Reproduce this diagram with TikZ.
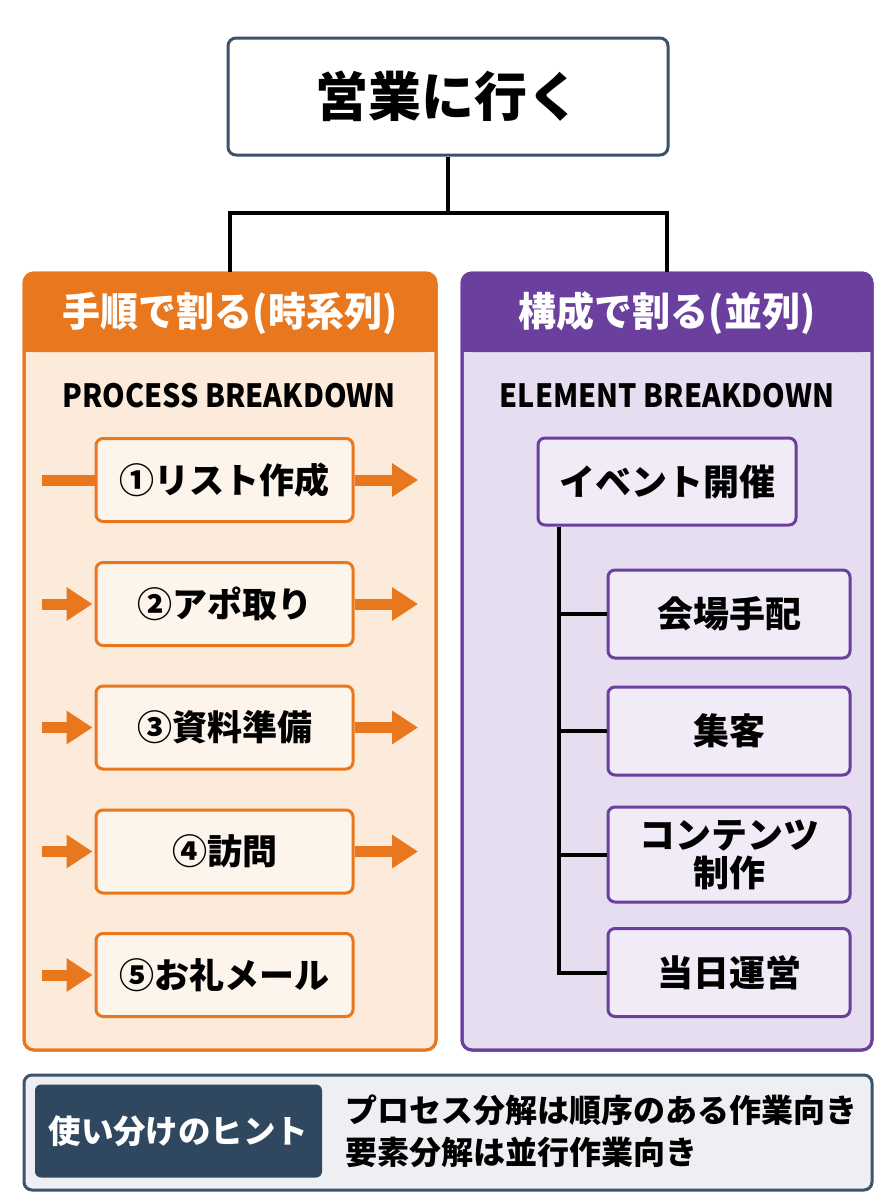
\documentclass[tikz,border=0pt]{standalone}
\usepackage{fontspec}
\setmainfont{Noto Sans CJK JP}
\usepackage{graphicx}
\usetikzlibrary{arrows.meta}
\definecolor{slate}{HTML}{3B536B}
\definecolor{org}{HTML}{E8771E}
\definecolor{orgbody}{HTML}{FCEADA}
\definecolor{orgbox}{HTML}{FDF4EB}
\definecolor{pur}{HTML}{6A3F9E}
\definecolor{purbody}{HTML}{E6DDF1}
\definecolor{purbox}{HTML}{F0EBF7}
\definecolor{hintbg}{HTML}{EDEFF2}
\definecolor{hintdark}{HTML}{2F475F}
\begin{document}
\begin{tikzpicture}[x=1pt,y=-1pt,
  topbox/.style={draw=slate, line width=3pt, rounded corners=8pt, fill=white, minimum width=440pt, minimum height=117pt, font=\fontsize{53}{62}\selectfont\bfseries},
  panel/.style={line width=3pt, rounded corners=10pt, minimum width=412pt, minimum height=777pt},
  hdr/.style={text=white, font=\fontsize{40}{46}\selectfont\bfseries},
  subt/.style={font=\fontsize{32}{38}\selectfont\bfseries},
  pbox/.style={draw=org, fill=orgbox, line width=3pt, rounded corners=7pt, minimum width=257pt, minimum height=83pt, font=\fontsize{35}{40}\selectfont\bfseries},
  ebox/.style={draw=pur, fill=purbox, line width=3pt, rounded corners=7pt, minimum width=242pt, minimum height=88pt, align=center, font=\fontsize{36}{38}\selectfont\bfseries},
  arr/.style={draw=org, line width=11pt, -{Triangle[length=26pt,width=32pt]}},
  tree/.style={line width=4pt, draw=black}
]
\useasboundingbox (0,0) rectangle (896,1200);
\fill[white] (0,0) rectangle (896,1200);

% top
\node[topbox] (top) at (448,96.5) {営業に行く};

% left panel
\node[panel, draw=org, fill=orgbody] (lp) at (230,661.5) {};
\fill[org, rounded corners=10pt] (24,273) rectangle (436,352);
\fill[org] (24,330) rectangle (436,352);
\draw[org, line width=3pt, rounded corners=10pt] (24,273) rectangle (436,1050);
\node[hdr] (lh) at (230,313) {\scalebox{0.95}[1]{手順で割る(時系列)}};
\node[subt] (ls) at (229,396) {\scalebox{0.9}[1]{PROCESS BREAKDOWN}};

% right panel
\node[panel, draw=pur, fill=purbody, minimum width=410pt] (rp) at (667,661.5) {};
\fill[pur, rounded corners=10pt] (462,273) rectangle (872,352);
\fill[pur] (462,330) rectangle (872,352);
\draw[pur, line width=3pt, rounded corners=10pt] (462,273) rectangle (872,1050);
\node[hdr] (rh) at (667,313) {\scalebox{0.95}[1]{構成で割る(並列)}};
\node[subt] (rs) at (667,396) {\scalebox{0.9}[1]{ELEMENT BREAKDOWN}};

% top connectors
\coordinate (mid) at (448,213);
\draw[tree] (top.south) -- (mid);
\draw[tree] (lp.north) |- (mid) -| (rp.north);

% process boxes
\node[pbox] (p1) at (224.5,480) {①リスト作成};
\node[pbox] (p2) at (224.5,604) {②アポ取り};
\node[pbox] (p3) at (224.5,727.5) {③資料準備};
\node[pbox] (p4) at (224.5,851.5) {④訪問};
\node[pbox] (p5) at (224.5,975) {⑤お礼メール};

\coordinate (l1) at (42,480);
\coordinate (l2) at (42,604);
\coordinate (l3) at (42,727.5);
\coordinate (l4) at (42,851.5);
\coordinate (l5) at (42,975);
\coordinate (r1) at (418,480);
\coordinate (r2) at (418,604);
\coordinate (r3) at (418,727.5);
\coordinate (r4) at (418,851.5);

\draw[draw=org, line width=11pt] (l1) -- (p1.west);
\draw[arr, shorten >=2pt] (l2) -- (p2.west);
\draw[arr, shorten >=2pt] (l3) -- (p3.west);
\draw[arr, shorten >=2pt] (l4) -- (p4.west);
\draw[arr, shorten >=2pt] (l5) -- (p5.west);
\draw[arr] (p1.east) -- (r1);
\draw[arr] (p2.east) -- (r2);
\draw[arr] (p3.east) -- (r3);
\draw[arr] (p4.east) -- (r4);

% element tree
\node[ebox, minimum width=258pt, minimum height=87pt] (e0) at (667,481.5) {イベント開催};
\node[ebox] (c1) at (729,614) {会場手配};
\node[ebox] (c2) at (729,731) {集客};
\node[ebox, minimum height=95pt] (c3) at (729,854.5) {コンテンツ\\制作};
\node[ebox] (c4) at (729,972.5) {当日運営};

\draw[tree] ([xshift=22pt]e0.south west) |- (c4.west);
\draw[tree] ([xshift=22pt]e0.south west |- c1.west) -- (c1.west);
\draw[tree] ([xshift=22pt]e0.south west |- c2.west) -- (c2.west);
\draw[tree] ([xshift=22pt]e0.south west |- c3.west) -- (c3.west);

% hint
\node[draw=slate, line width=3pt, fill=hintbg, rounded corners=8pt, minimum width=848pt, minimum height=115pt] (hint) at (448,1132.5) {};
\node[fill=hintdark, rounded corners=6pt, minimum width=287pt, minimum height=93pt, text=white, font=\fontsize{32.5}{38}\selectfont\bfseries] (hl) at (178.5,1131) {使い分けのヒント};
\node[anchor=west, align=left, inner sep=0pt, font=\fontsize{32}{42}\selectfont\bfseries] (ht) at (345,1131) {プロセス分解は順序のある作業向き\\要素分解は並行作業向き};
\end{tikzpicture}
\end{document}
